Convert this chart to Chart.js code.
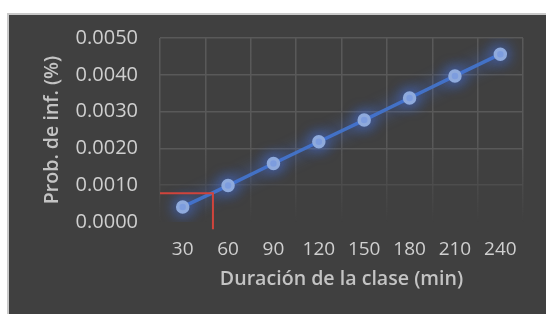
<!DOCTYPE html>
<html>
<head>
<meta charset="utf-8">
<script src="https://cdn.jsdelivr.net/npm/chart.js@4"></script>
<style>
  html, body { margin: 0; padding: 0; background: #fff; }
  #panel {
    position: absolute; left: 7px; top: 13px; width: 539px; height: 301px;
    background: #404040; border-left: 2px solid #c9c9c9; border-top: 2px solid #c9c9c9;
    box-sizing: border-box;
  }
  #chart { display: block; }
</style>
</head>
<body>
<div id="panel"><canvas id="chart" width="537" height="299"></canvas></div>
<script>
// duración de la clase (min) y probabilidad de infección
const duraciones = ["30", "60", "90", "120", "150", "180", "210", "240"];
const probInf = [0.00041, 0.00099, 0.00159, 0.00218, 0.00277, 0.00337, 0.00397, 0.00456];
// lectura marcada en rojo
const marcaMin = 50;
const marcaProb = 0.00078;

const tickColor = "#cfcfcf";
const titleColor = "#c4c4c4";
const gridColor = "#595959";
const fam = "'Open Sans'";

const glow = {
    id: "glow",
    beforeDatasetDraw(chart) {
        const ctx = chart.ctx;
        ctx.save();
        ctx.shadowColor = "rgba(68,114,230,1)";
        ctx.shadowBlur = 15;
    },
    afterDatasetDraw(chart) {
        chart.ctx.restore();
    }
};

const marca = {
    id: "marca",
    afterDatasetsDraw(chart) {
        const { ctx, scales: { x, y }, chartArea } = chart;
        // posicion de la marca sobre la escala de categorias
        const idx = (marcaMin - Number(duraciones[0])) / (Number(duraciones[1]) - Number(duraciones[0]));
        const px = x.getPixelForValue(idx);
        const py = y.getPixelForValue(marcaProb);
        const yLow = y.getPixelForValue(-0.0002);
        ctx.save();
        ctx.strokeStyle = "#d0443c";
        ctx.lineWidth = 2;
        ctx.beginPath();
        ctx.moveTo(chartArea.left, py);
        ctx.lineTo(px, py);
        ctx.lineTo(px, yLow);
        ctx.stroke();
        ctx.restore();
    }
};

new Chart(document.querySelector("#chart"), {
    type: "line",
    data: {
        labels: duraciones,
        datasets: [{
            data: probInf,
            borderColor: "#4472c4",
            borderWidth: 3.5,
            pointBackgroundColor: "#8faadc",
            pointBorderColor: "#8faadc",
            pointRadius: 5,
            tension: 0
        }]
    },
    plugins: [glow, marca],
    options: {
        responsive: false,
        animation: false,
        layout: { padding: { left: 30, right: 23, top: 23, bottom: 23 } },
        plugins: { legend: { display: false }, tooltip: { enabled: false } },
        scales: {
            x: {
                offset: true,
                afterFit: (s) => { s.height = 69; },
                grid: {
                    offset: true,
                    drawTicks: false,
                    color: (c) => {
                        const a = c.chart.chartArea;
                        if (!a) return gridColor;
                        const g = c.chart.ctx.createLinearGradient(0, a.top, 0, a.bottom);
                        g.addColorStop(0, gridColor);
                        g.addColorStop(0.55, gridColor);
                        g.addColorStop(1, "rgba(89,89,89,0)");
                        return g;
                    },
                    lineWidth: 1.5
                },
                border: { display: false },
                ticks: { color: tickColor, font: { family: fam, size: 19 }, padding: 16 },
                title: {
                    display: true,
                    text: "Duración de la clase (min)",
                    color: titleColor,
                    font: { family: fam, size: 19.6, weight: "600" },
                    padding: { top: 0, bottom: 0 }
                }
            },
            y: {
                min: 0,
                max: 0.005,
                afterFit: (s) => { s.width = 121; s.paddingTop = 0; s.paddingBottom = 0; },
                grid: {
                    drawTicks: false,
                    color: (c) => c.index === 0 ? "rgba(0,0,0,0)" : (c.index === 1 ? "#4d4d4d" : gridColor),
                    lineWidth: 1.5
                },
                border: { display: false },
                ticks: {
                    stepSize: 0.001,
                    color: tickColor,
                    font: { family: fam, size: 20 },
                    padding: 22,
                    callback: (v) => v.toFixed(4)
                },
                title: {
                    display: true,
                    text: "Prob. de inf. (%)",
                    color: titleColor,
                    font: { family: fam, size: 19.6, weight: "600" },
                    padding: { top: 2, bottom: 0 }
                }
            }
        }
    }
});
</script>
</body>
</html>
